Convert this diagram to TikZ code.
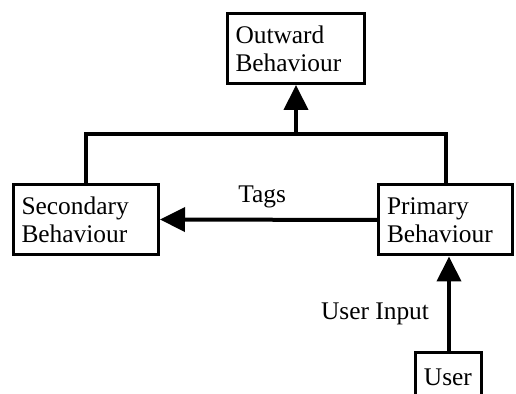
\documentclass[tikz,border=0pt]{standalone}
\usepackage{fontspec}
\setmainfont{Liberation Serif}
\usepackage{tikz}
\usetikzlibrary{arrows.meta,positioning}

\begin{document}
\begin{tikzpicture}[x=0.5pt,y=-0.5pt,
	every node/.style={font=\fontsize{12.7}{14}\selectfont},
	box/.style={draw=black, line width=1.5pt, align=left, inner xsep=4pt, inner ysep=0pt, text width=#1, minimum height=35pt},
	link/.style={draw=black, line width=2pt},
	flow/.style={link, -{Triangle[length=12.5pt,width=12pt]}},
	lbl/.style={inner sep=0pt}]
			\useasboundingbox (0,0) rectangle (516,394);
			\node [box=60.5pt] (outward) at (296,48.5) {Outward\\Behaviour};
			\node [box=64.5pt] (secondary) at (86,219.5) {Secondary\\Behaviour};
			\node [box=59pt] (primary) at (446,220) {Primary\\Behaviour};
			\node [box=25pt, minimum height=24pt] (user) at (449,377) {User};
			\coordinate (merge) at (296,134);
			% behaviours feed the outward one
			\draw [link] (secondary.north) |- (merge) -| (primary.north);
			\draw [flow] (merge) -- (outward.south);
			\draw [flow] (primary.west) -- node [lbl, pos=0.53, above=5pt] {Tags} (secondary.east);
			\draw [flow] (user.north) -- node [lbl, pos=0.4, left=9pt] {User Input} (user.north |- primary.south);
\end{tikzpicture}
\end{document}
